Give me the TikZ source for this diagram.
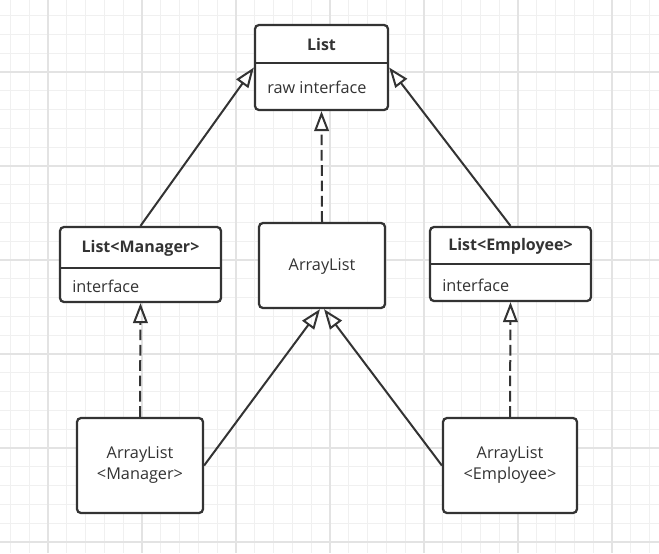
\documentclass[tikz,border=0pt]{standalone}
\usepackage{fontspec}
\setmainfont{Open Sans}
\usetikzlibrary{arrows.meta,fit}
\definecolor{ink}{HTML}{333333}

\tikzset{
    gridminor/.style={draw=black!6, line width=0.7pt},
    gridmajor/.style={draw=black!11, line width=0.8pt},
    umlbox/.style={draw=ink, line width=1.7pt, rounded corners=3pt, inner sep=0pt, fill=white},
    divider/.style={draw=ink, line width=1.7pt},
    label/.style={text=ink, font=\fontsize{12.2}{16}\selectfont, inner sep=0pt, align=center},
    title/.style={label, font=\fontsize{12}{16}\selectfont\bfseries},
    extends/.style={draw=ink, line width=1.5pt, -{Triangle[open,length=15pt,width=11pt]}},
    implements/.style={extends, dash pattern=on 8pt off 3.5pt}
}

\begin{document}
\begin{tikzpicture}[x=0.75pt, y=-0.75pt]
    \useasboundingbox (0,0) rectangle (659,553);
    \fill[white] (0,0) rectangle (659,553);
    \foreach \i in {0,...,34} {
        \draw[gridminor] (10.4+18.8*\i,0) -- (10.4+18.8*\i,553);
    }
    \foreach \i in {0,...,29} {
        \draw[gridminor] (0,15.6+18.8*\i) -- (659,15.6+18.8*\i);
    }
    \foreach \i in {0,...,6} {
        \draw[gridmajor] (48+94*\i,0) -- (48+94*\i,553);
        \draw[gridmajor] (0,72+94*\i) -- (659,72+94*\i);
    }

    \node[umlbox, fit={(255,25) (388,110)}] (list) {};
    \draw[divider] (255,63) -- (388,63);
    \node[title] (listname) at (321.5,44) {List};
    \node[label, anchor=west] (listbody) at (267,87) {raw interface};

    \node[umlbox, fit={(60,227) (221,302)}] (lmgr) {};
    \draw[divider] (60,268) -- (221,268);
    \node[title] (lmgrname) at (140.5,248) {List<Manager>};
    \node[label, anchor=west] (lmgrbody) at (72,286) {interface};

    \node[umlbox, fit={(259,223) (385,308)}] (alist) {};
    \node[label] (alistname) at (322,266) {ArrayList};

    \node[umlbox, fit={(430,227) (591,301)}] (lemp) {};
    \draw[divider] (430,264) -- (591,264);
    \node[title] (lempname) at (510.5,246) {List<Employee>};
    \node[label, anchor=west] (lempbody) at (442,285) {interface};

    \node[umlbox, fit={(77,418) (203,513)}] (amgr) {};
    \node[label] (amgrname) at (140,465) {ArrayList\\<Manager>};

    \node[umlbox, fit={(443,418) (577,513)}] (aemp) {};
    \node[label] (aempname) at (510,465) {ArrayList\\<Employee>};

    \draw[extends] (lmgr.north) -- (list.west);
    \draw[extends] (lemp.north) -- (list.east);
    \draw[implements] (alist.north) -- (list.south);
    \draw[implements] (amgr.north) -- (lmgr.south);
    \draw[implements] (aemp.north) -- (lemp.south);
    \draw[extends] (amgr.east) -- ([xshift=-1.5]alist.south);
    \draw[extends] (aemp.west) -- ([xshift=1.5]alist.south);
\end{tikzpicture}
\end{document}
